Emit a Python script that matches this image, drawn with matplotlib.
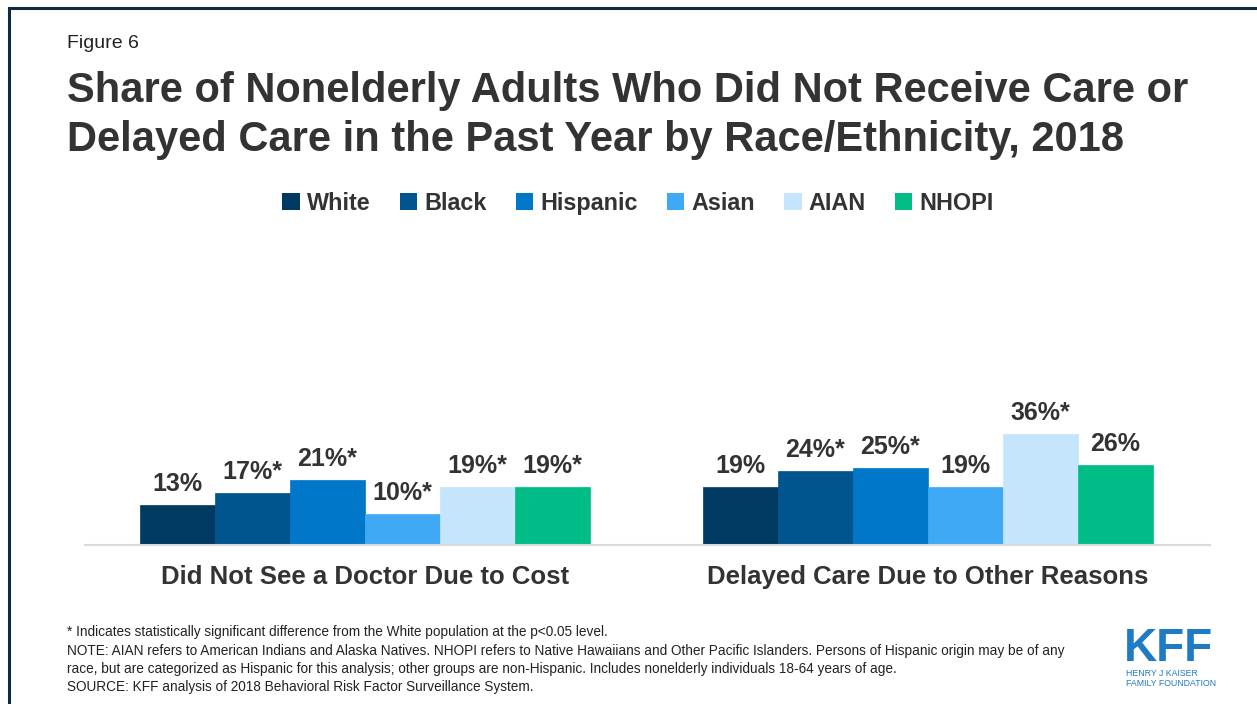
import numpy as np
import matplotlib
matplotlib.use("Agg")
import matplotlib.pyplot as plt
from matplotlib.patches import Patch
from matplotlib.lines import Line2D

plt.rcParams['font.family'] = ['Liberation Sans', 'DejaVu Sans']

# data
categories = ["Did Not See a Doctor Due to Cost", "Delayed Care Due to Other Reasons"]
groups = ["White", "Black", "Hispanic", "Asian", "AIAN", "NHOPI"]
values = {
    "White":    [13, 19],
    "Black":    [17, 24],
    "Hispanic": [21, 25],
    "Asian":    [10, 19],
    "AIAN":     [19, 36],
    "NHOPI":    [19, 26],
}
labels = {
    "White":    ["13%", "19%"],
    "Black":    ["17%*", "24%*"],
    "Hispanic": ["21%*", "25%*"],
    "Asian":    ["10%*", "19%"],
    "AIAN":     ["19%*", "36%*"],
    "NHOPI":    ["19%*", "26%"],
}
colors = ["#003a63", "#00558f", "#0077c8", "#3fa9f5", "#c4e5fb", "#00bd87"]

TEXT = "#333333"
W, H = 1257, 704

fig = plt.figure(figsize=(W / 100, H / 100), dpi=100)

# frame lines (top and left)
fig.add_artist(Line2D([8.5 / W, 1], [1 - 8 / H, 1 - 8 / H], transform=fig.transFigure, color="#0d2a45", lw=2.2))
fig.add_artist(Line2D([8.5 / W, 8.5 / W], [0, 1 - 8 / H], transform=fig.transFigure, color="#0d2a45", lw=2.2))

# axes placed in pixel terms
left, right, base, top = 85, 1210, 545, 422
ax = fig.add_axes([left / W, 1 - base / H, (right - left) / W, (base - top) / H])
ax.set_ylim(0, 40)

centers = np.array([0, 7.5])
n = len(groups)
for i, g in enumerate(groups):
    xs = centers + (i - (n - 1) / 2)
    bars = ax.bar(xs, values[g], width=1.0, color=colors[i], edgecolor=colors[i], linewidth=0.5, label=g)
    for b, lab in zip(bars, labels[g]):
        ax.annotate(lab, (b.get_x() + b.get_width() / 2, b.get_height()), xytext=(0, 6.5),
                    textcoords="offset points", ha="center", va="bottom",
                    fontsize=18, fontweight="bold", color=TEXT)

ax.set_xlim((left - 365) / 75, (right - 365) / 75)
for s in ["top", "right", "left"]:
    ax.spines[s].set_visible(False)
ax.spines["bottom"].set_color("#d9d9d9")
ax.spines["bottom"].set_linewidth(1.5)
ax.set_yticks([])
ax.set_xticks([])

for c, cat in zip(centers, categories):
    ax.text(c, -0.26, cat, transform=ax.get_xaxis_transform(), ha="center", va="center",
            fontsize=18.5, fontweight="bold", color=TEXT)

# titles
fig.text(67 / W, 1 - 43 / H, "Figure 6", fontsize=14, color="#222222", va="center")
fig.text(67 / W, 1 - 91 / H, "Share of Nonelderly Adults Who Did Not Receive Care or",
         fontsize=30, fontweight="bold", color=TEXT, va="center")
fig.text(67 / W, 1 - 140 / H, "Delayed Care in the Past Year by Race/Ethnicity, 2018",
         fontsize=30, fontweight="bold", color=TEXT, va="center")

# legend
handles = [Patch(facecolor=colors[i], edgecolor="none", label=g) for i, g in enumerate(groups)]
fig.legend(handles=handles, loc="center", bbox_to_anchor=(638 / W, 1 - 203 / H), ncol=6,
           frameon=False, handlelength=0.75, handleheight=0.75, handletextpad=0.3,
           columnspacing=1.25, prop={"size": 16.8, "weight": "bold"}, labelcolor=TEXT)

# footnotes
notes = [
    "* Indicates statistically significant difference from the White population at the p<0.05 level.",
    "NOTE: AIAN refers to American Indians and Alaska Natives. NHOPI refers to Native Hawaiians and Other Pacific Islanders. Persons of Hispanic origin may be of any",
    "race, but are categorized as Hispanic for this analysis; other groups are non-Hispanic. Includes nonelderly individuals 18-64 years of age.",
    "SOURCE: KFF analysis of 2018 Behavioral Risk Factor Surveillance System.",
]
for k, line in enumerate(notes):
    fig.text(67 / W, 1 - (632 + k * 18.5) / H, line, fontsize=9.8, color="#222222", va="center")

# logo
fig.text(1124 / W, 1 - 649 / H, "KFF", fontsize=33, fontweight="bold", color="#1f7bc4",
         va="center", ha="left")
fig.text(1126 / W, 1 - 673 / H, "HENRY J KAISER", fontsize=6.3, color="#1f7bc4", va="center")
fig.text(1126 / W, 1 - 683 / H, "FAMILY FOUNDATION", fontsize=6.3, color="#1f7bc4", va="center")

fig.savefig("out.png", dpi=100)
